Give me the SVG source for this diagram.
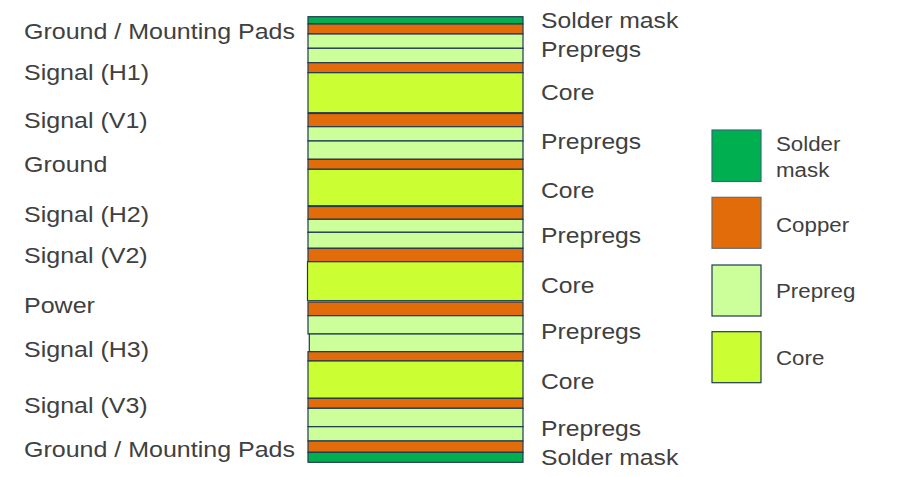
<svg xmlns="http://www.w3.org/2000/svg" width="905" height="477" viewBox="0 0 905 477">
<style>
rect{stroke:#1f3a52;stroke-width:1.2}
.sm{fill:#00b050}
.cu{fill:#e36c0a}
.pp{fill:#ccff99}
.co{fill:#ccff33}
text{font-family:"Liberation Sans",Arial,sans-serif;fill:#404040}
.l{font-size:22.3px}
.r{font-size:22px}
.g{font-size:20px}
</style>
<rect width="905" height="477" fill="#ffffff" style="stroke:none"/>
<g id="stack">
<rect class="sm" x="308" y="16.7" width="215" height="7.3"/>
<rect class="cu" x="308" y="24" width="215" height="10"/>
<rect class="pp" x="308" y="34" width="215" height="14.3"/>
<rect class="pp" x="308" y="48.3" width="215" height="14.4"/>
<rect class="cu" x="308" y="62.7" width="215" height="10"/>
<rect class="co" x="308" y="72.7" width="215" height="40"/>
<rect class="cu" x="308" y="113.5" width="215" height="13.2"/>
<rect class="pp" x="308" y="126.7" width="215" height="14.3"/>
<rect class="pp" x="308" y="141" width="215" height="18.3"/>
<rect class="cu" x="308" y="159.3" width="215" height="10"/>
<rect class="co" x="308" y="169.3" width="215" height="36.4"/>
<rect class="cu" x="308" y="206.5" width="215" height="12.8"/>
<rect class="pp" x="308" y="219.3" width="215" height="13"/>
<rect class="pp" x="308" y="232.3" width="215" height="16"/>
<rect class="cu" x="308" y="248.3" width="215" height="13.4"/>
<rect class="co" x="307.5" y="261.7" width="215.5" height="39"/>
<rect class="cu" x="308" y="302" width="215" height="13.7"/>
<rect class="pp" x="308" y="315.7" width="215" height="18.3"/>
<rect class="pp" x="309.3" y="334" width="213.7" height="17.7"/>
<rect class="cu" x="308" y="351.7" width="215" height="9.3"/>
<rect class="co" x="308" y="361" width="215" height="37.3"/>
<rect class="cu" x="308" y="398.3" width="215" height="10"/>
<rect class="pp" x="308" y="408.3" width="215" height="18.4"/>
<rect class="pp" x="308" y="426.7" width="215" height="14.3"/>
<rect class="cu" x="308" y="441" width="215" height="11.3"/>
<rect class="sm" x="308" y="452.3" width="215" height="10"/>
</g>
<g id="left-labels">
<text class="l" x="24" y="39" textLength="271" lengthAdjust="spacingAndGlyphs">Ground / Mounting Pads</text>
<text class="l" x="24" y="80" textLength="125" lengthAdjust="spacingAndGlyphs">Signal (H1)</text>
<text class="l" x="24" y="128.3" textLength="123.7" lengthAdjust="spacingAndGlyphs">Signal (V1)</text>
<text class="l" x="24" y="172.3" textLength="83.4" lengthAdjust="spacingAndGlyphs">Ground</text>
<text class="l" x="24" y="222.3" textLength="125" lengthAdjust="spacingAndGlyphs">Signal (H2)</text>
<text class="l" x="24" y="263.3" textLength="123.7" lengthAdjust="spacingAndGlyphs">Signal (V2)</text>
<text class="l" x="24" y="313.3" textLength="70.9" lengthAdjust="spacingAndGlyphs">Power</text>
<text class="l" x="24" y="356.7" textLength="125" lengthAdjust="spacingAndGlyphs">Signal (H3)</text>
<text class="l" x="24" y="413.3" textLength="123.7" lengthAdjust="spacingAndGlyphs">Signal (V3)</text>
<text class="l" x="24" y="456.7" textLength="271" lengthAdjust="spacingAndGlyphs">Ground / Mounting Pads</text>
</g>
<g id="right-labels">
<text class="r" x="541" y="28.3" textLength="137.3" lengthAdjust="spacingAndGlyphs">Solder mask</text>
<text class="r" x="541" y="56.7" textLength="100.2" lengthAdjust="spacingAndGlyphs">Prepregs</text>
<text class="r" x="541" y="100" textLength="53.5" lengthAdjust="spacingAndGlyphs">Core</text>
<text class="r" x="541" y="149" textLength="100.2" lengthAdjust="spacingAndGlyphs">Prepregs</text>
<text class="r" x="541" y="198" textLength="53.5" lengthAdjust="spacingAndGlyphs">Core</text>
<text class="r" x="541" y="243" textLength="100.2" lengthAdjust="spacingAndGlyphs">Prepregs</text>
<text class="r" x="541" y="293" textLength="53.5" lengthAdjust="spacingAndGlyphs">Core</text>
<text class="r" x="541" y="339" textLength="100.2" lengthAdjust="spacingAndGlyphs">Prepregs</text>
<text class="r" x="541" y="389" textLength="53.5" lengthAdjust="spacingAndGlyphs">Core</text>
<text class="r" x="541" y="435.7" textLength="100.2" lengthAdjust="spacingAndGlyphs">Prepregs</text>
<text class="r" x="541" y="465" textLength="137.3" lengthAdjust="spacingAndGlyphs">Solder mask</text>
</g>
<g id="legend">
<g id="legend-solder-mask">
<rect class="sm" x="712" y="130" width="49" height="51.5" style="stroke:#2d6e73"/>
<text class="g" x="776" y="151" textLength="64.4" lengthAdjust="spacingAndGlyphs">Solder</text>
<text class="g" x="776" y="177" textLength="53.3" lengthAdjust="spacingAndGlyphs">mask</text>
</g>
<g id="legend-copper">
<rect class="cu" x="712" y="197.3" width="49" height="51" style="stroke:#6b6b6b"/>
<text class="g" x="776" y="232" textLength="73.1" lengthAdjust="spacingAndGlyphs">Copper</text>
</g>
<g id="legend-prepreg">
<rect class="pp" x="712" y="265" width="49" height="51"/>
<text class="g" x="776" y="298" textLength="79.3" lengthAdjust="spacingAndGlyphs">Prepreg</text>
</g>
<g id="legend-core">
<rect class="co" x="712" y="331.7" width="49" height="51"/>
<text class="g" x="776" y="365" textLength="48.3" lengthAdjust="spacingAndGlyphs">Core</text>
</g>
</g>
</svg>
